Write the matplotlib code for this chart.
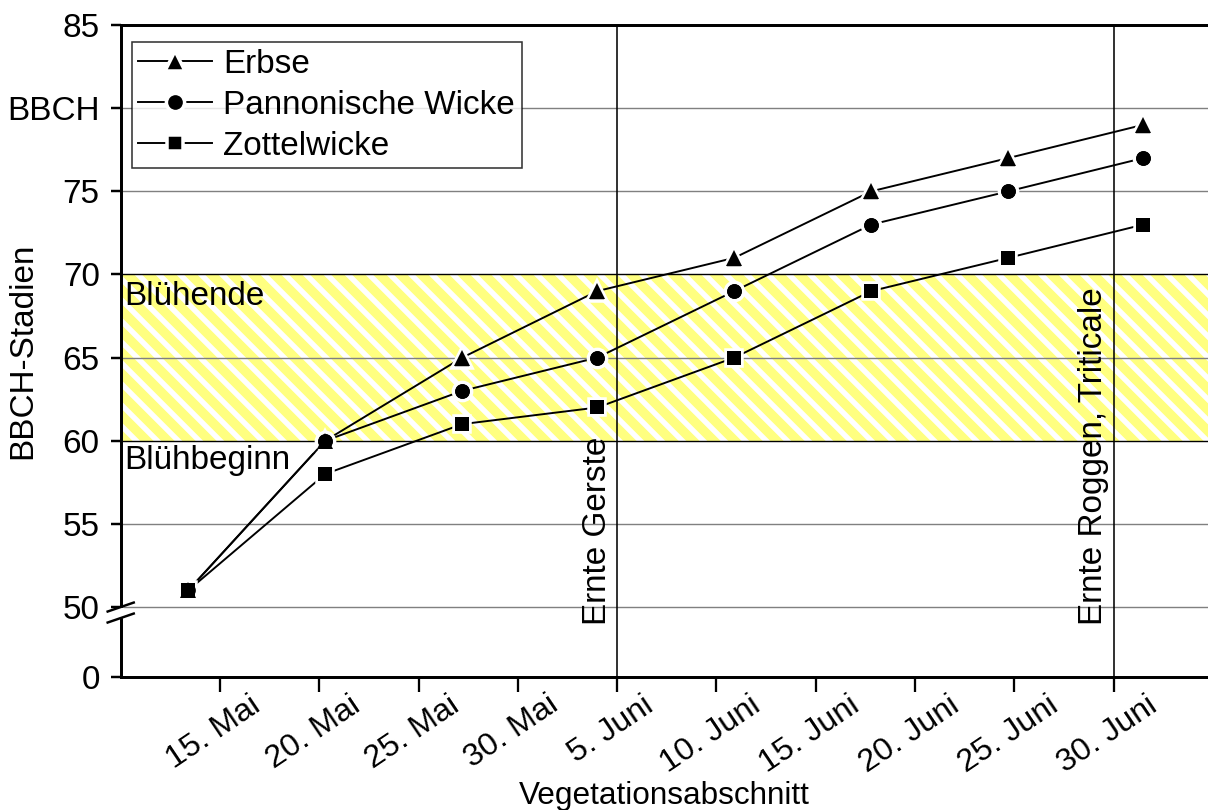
import numpy as np
import matplotlib
matplotlib.use('Agg')
import matplotlib.pyplot as plt
import matplotlib.transforms as mtransforms

# data
tick_pos = [15, 20, 25, 30, 35, 40, 45, 50, 55, 60]
tick_labels = ['15. Mai', '20. Mai', '25. Mai', '30. Mai', '5. Juni',
               '10. Juni', '15. Juni', '20. Juni', '25. Juni', '30. Juni']
x_dates = [13.4, 20.3, 27.2, 34.0, 40.9, 47.8, 54.7, 61.5]
erbse = [51, 60, 65, 69, 71, 75, 77, 79]
pannonische = [51, 60, 63, 65, 69, 73, 75, 77]
zottelwicke = [51, 58, 61, 62, 65, 69, 71, 73]
series = [('Erbse', erbse, '^', 9.1),
          ('Pannonische Wicke', pannonische, 'o', 8.4),
          ('Zottelwicke', zottelwicke, 's', 7.6)]
y_ticks = [50, 55, 60, 65, 70, 75, 80, 85]
y_ticklabels = ['50', '55', '60', '65', '70', '75', 'BBCH', '85']
harvest = [(35, 'Ernte Gerste'), (60, 'Ernte Roggen, Triticale')]
bluete = (60, 70)

DPI = 126
plt.rcParams['font.family'] = ['Liberation Sans', 'DejaVu Sans']
plt.rcParams['hatch.linewidth'] = 5.4
fs = 19

fig = plt.figure(figsize=(1208 / DPI, 810 / DPI), dpi=DPI)
ax = fig.add_axes([120.7 / 1208, 1 - 677 / 810, 1 - 120.7 / 1208, 652 / 810])

y_zero = 50 - 70 / (83.2 / 5)   # where the "0" sits below the break
ax.set_ylim(y_zero, 85)
ax.set_xlim(10, 64.75)

# flowering band
ax.axhspan(bluete[0], bluete[1], facecolor='white', edgecolor='#ffff80',
           hatch='\\\\', lw=0, zorder=0.5)

# grid
for yv in [50, 55, 65, 75, 80]:
    ax.axhline(yv, color='#808080', lw=0.8, zorder=1)
for yv in bluete:
    ax.axhline(yv, color='black', lw=0.8, zorder=1)

for xv, txt in harvest:
    ax.axvline(xv, color='black', lw=0.9, zorder=1)
    ax.annotate(txt, xy=(xv, 0.08), xycoords=ax.get_xaxis_transform(),
                xytext=(-2.5, 0), textcoords='offset points',
                rotation=90, ha='right', va='bottom', fontsize=fs)

ylt = mtransforms.blended_transform_factory(ax.transAxes, ax.transData)
ax.annotate('Blühende', xy=(0, bluete[1]), xycoords=ylt, xytext=(2.3, -17.2),
            textcoords='offset points', va='baseline', fontsize=fs)
ax.annotate('Blühbeginn', xy=(0, bluete[0]), xycoords=ylt, xytext=(2.3, -16),
            textcoords='offset points', va='baseline', fontsize=fs)

# series: white-edged markers cut the lines, black markers on top
for name, vals, mk, ms in series:
    ax.plot(x_dates, vals, color='black', lw=1.1, marker=mk, ms=ms + 2,
            mfc='black', mec='white', mew=2, label=name, zorder=3)
for name, vals, mk, ms in series:
    ax.plot(x_dates, vals, ls='none', marker=mk, ms=ms, mfc='black',
            mec='black', mew=0, zorder=5)

# axes styling
ax.set_yticks([y_zero] + y_ticks)
ax.set_yticklabels(['0'] + y_ticklabels)
ax.set_xticks(tick_pos)
ax.set_xticklabels(tick_labels, rotation=34, ha='center')
ax.tick_params(axis='y', direction='out', length=6, width=1.4,
               labelsize=fs, pad=6)
ax.tick_params(axis='x', direction='out', length=8.5, width=1.3,
               labelsize=18.5, pad=-1)
offset = mtransforms.ScaledTranslation(-6 / DPI, 0, fig.dpi_scale_trans)
for lab in ax.get_xticklabels():
    lab.set_transform(lab.get_transform() + offset)

for side in ['left', 'bottom', 'top']:
    ax.spines[side].set_linewidth(1.7)
ax.spines['right'].set_visible(False)

ax.set_ylabel('BBCH-Stadien', fontsize=fs)
ax.yaxis.set_label_coords(-0.076, 0.5)
ax.set_xlabel('Vegetationsabschnitt', fontsize=18, va='top')
ax.xaxis.set_label_coords(0.5, -0.16)

# axis break marks
bx = 0.012
for yb in [50, 50 - 11 / 16.64]:
    ax.plot([-bx, bx], [yb - 0.27, yb + 0.27], transform=ylt, color='black',
            lw=1.4, clip_on=False, zorder=6)
ax.plot([0, 0], [50 - 0.2, 50 - 11 / 16.64 + 0.2], transform=ylt,
        color='white', lw=3, clip_on=False, zorder=5.5)

leg = ax.legend(loc='upper left', bbox_to_anchor=(11 / 1087, 1 - 17 / 652),
                borderaxespad=0, fontsize=fs, frameon=True, fancybox=False,
                edgecolor='black', handlelength=2.2, handletextpad=0.35,
                labelspacing=0.3, borderpad=0.2)
leg.get_frame().set_linewidth(0.9)
leg.set_zorder(7)

fig.savefig('out.png', dpi=DPI)
